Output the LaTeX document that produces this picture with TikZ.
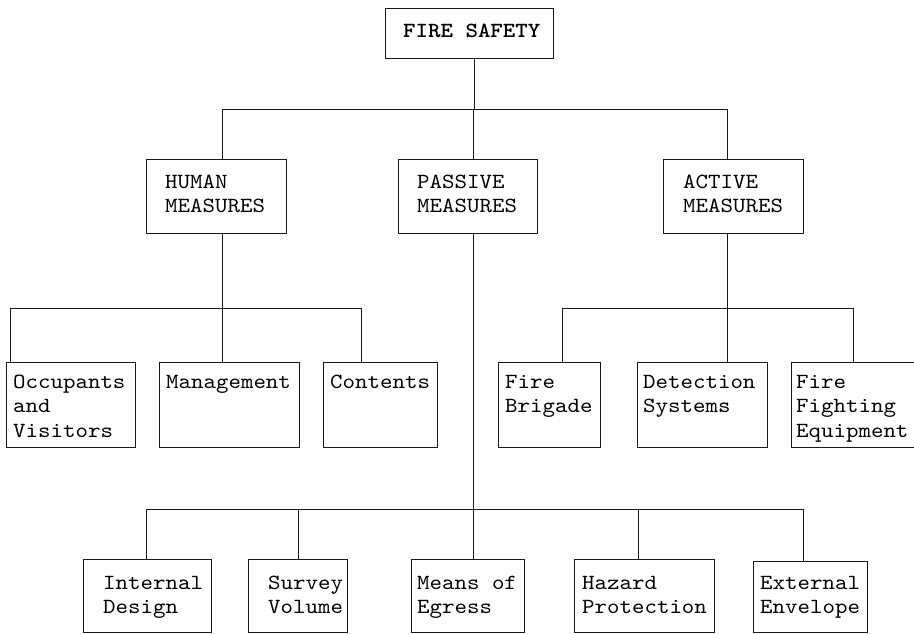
\documentclass[tikz,border=0pt]{standalone}
\usepackage{fontspec}
\setmonofont{lmmono10-regular.otf}[FakeStretch=1.1, BoldFont=lmmonolt10-bold.otf]
\begin{document}
\begin{tikzpicture}[x=1pt,y=-1pt,
  box/.style={draw=black!90, line width=0.9pt, rectangle, inner sep=0pt},
  txt/.style={inner sep=0pt, anchor=base west, font=\ttfamily\fontsize{21.6}{24.5}\selectfont},
  conn/.style={draw=black!90, line width=0.9pt}]
\useasboundingbox (0,0) rectangle (914,634);
% level 1
\node[box, minimum width=168, minimum height=50] (fs) at (469,33) {};
\node[txt, font=\ttfamily\bfseries\fontsize{21.6}{24.5}\selectfont] (fsT) at (403,38) {FIRE SAFETY};
% level 2
\node[box, minimum width=140, minimum height=74] (hum) at (216,196) {};
\node[box, minimum width=139, minimum height=74] (pas) at (467.5,196) {};
\node[box, minimum width=140, minimum height=74] (act) at (733,196) {};
\node[txt] (humT) at (165,188) {\begin{tabular}[t]{@{}l@{}}HUMAN\\MEASURES\end{tabular}};
\node[txt] (pasT) at (417,188) {\begin{tabular}[t]{@{}l@{}}PASSIVE\\MEASURES\end{tabular}};
\node[txt] (actT) at (683,188) {\begin{tabular}[t]{@{}l@{}}ACTIVE\\MEASURES\end{tabular}};
% level 3
\node[box, minimum width=129, minimum height=85] (occ) at (70.5,404.5) {};
\node[box, minimum width=140, minimum height=85] (mgt) at (229,404.5) {};
\node[box, minimum width=114, minimum height=85] (con) at (380,404.5) {};
\node[box, minimum width=102, minimum height=85] (brg) at (549,404.5) {};
\node[box, minimum width=130, minimum height=85] (det) at (702,404.5) {};
\node[box, minimum width=129, minimum height=85] (ffe) at (855.5,404.5) {};
\node[txt] (occT) at (13,388) {\begin{tabular}[t]{@{}l@{}}Occupants\\and\\Visitors\end{tabular}};
\node[txt] (mgtT) at (166,388) {Management};
\node[txt] (conT) at (330,388) {Contents};
\node[txt] (brgT) at (505,388) {\begin{tabular}[t]{@{}l@{}}Fire\\Brigade\end{tabular}};
\node[txt] (detT) at (643,388) {\begin{tabular}[t]{@{}l@{}}Detection\\Systems\end{tabular}};
\node[txt] (ffeT) at (796,388) {\begin{tabular}[t]{@{}l@{}}Fire\\Fighting\\Equipment\end{tabular}};
% level 4
\node[box, minimum width=128, minimum height=73] (int) at (147,595.5) {};
\node[box, minimum width=99, minimum height=73] (sur) at (297.5,595.5) {};
\node[box, minimum width=113, minimum height=73] (mns) at (467.5,595.5) {};
\node[box, minimum width=140, minimum height=73] (haz) at (644,595.5) {};
\node[box, minimum width=114, minimum height=71] (ext) at (810,596.5) {};
\node[txt] (intT) at (103,589) {\begin{tabular}[t]{@{}l@{}}Internal\\Design\end{tabular}};
\node[txt] (surT) at (268,589) {\begin{tabular}[t]{@{}l@{}}Survey\\Volume\end{tabular}};
\node[txt] (mnsT) at (417,589) {\begin{tabular}[t]{@{}l@{}}Means of\\Egress\end{tabular}};
\node[txt] (hazT) at (582,589) {\begin{tabular}[t]{@{}l@{}}Hazard\\Protection\end{tabular}};
\node[txt] (extT) at (760,589) {\begin{tabular}[t]{@{}l@{}}External\\Envelope\end{tabular}};
% bus coordinates
\coordinate (b1) at (474,109);
\coordinate (b1L) at (222,109);
\coordinate (b1M) at (473,109);
\coordinate (b1R) at (727,109);
\coordinate (hb) at (222,308);
\coordinate (hbL) at (10,308);
\coordinate (hbR) at (361,308);
\coordinate (ab) at (727,308);
\coordinate (abL) at (562,308);
\coordinate (abR) at (853,308);
\coordinate (pb) at (473,509);
\coordinate (pb1) at (146,509);
\coordinate (pb2) at (298,509);
\coordinate (pb4) at (638,509);
\coordinate (pb5) at (803,509);
% connectors
\draw[conn] (fs.south -| b1) -- (b1);
\draw[conn] (b1L) -- (b1R);
\draw[conn] (b1L) -- (hum.north -| b1L);
\draw[conn] (b1M) -- (pas.north -| b1M);
\draw[conn] (b1R) -- (act.north -| b1R);
\draw[conn] (hum.south -| hb) -- (hb);
\draw[conn] (hbL) -- (hbR);
\draw[conn] (hbL) -- (occ.north -| hbL);
\draw[conn] (hb) -- (mgt.north -| hb);
\draw[conn] (hbR) -- (con.north -| hbR);
\draw[conn] (act.south -| ab) -- (ab);
\draw[conn] (abL) -- (abR);
\draw[conn] (abL) -- (brg.north -| abL);
\draw[conn] (ab) -- (det.north -| ab);
\draw[conn] (abR) -- (ffe.north -| abR);
\draw[conn] (pas.south -| pb) -- (mns.north -| pb);
\draw[conn] (pb1) -- (pb5);
\draw[conn] (pb1) -- (int.north -| pb1);
\draw[conn] (pb2) -- (sur.north -| pb2);
\draw[conn] (pb4) -- (haz.north -| pb4);
\draw[conn] (pb5) -- (ext.north -| pb5);
\end{tikzpicture}
\end{document}
